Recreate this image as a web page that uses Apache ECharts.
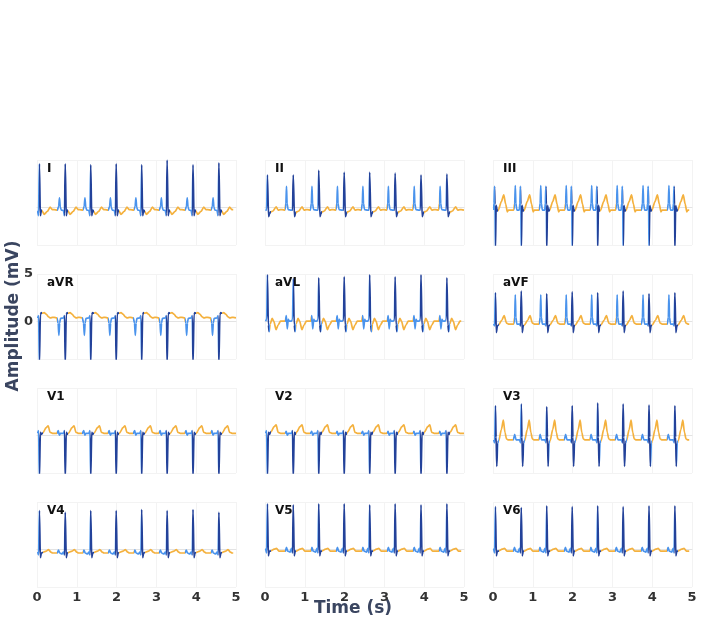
<!DOCTYPE html>
<html>
<head>
<meta charset="utf-8">
<script src="https://cdn.jsdelivr.net/npm/echarts@6/dist/echarts.min.js"></script>
<style>
html, body { margin: 0; padding: 0; background: #fff; }
#ecg { width: 701px; height: 625px; }
</style>
</head>
<body>
<div id="ecg"></div>
<script>
// 12 leads, shared rhythm (R times in s)
const leadNames = ['I', 'II', 'III', 'aVR', 'aVL', 'aVF', 'V1', 'V2', 'V3', 'V4', 'V5', 'V6'];
const beatTimes = [0.06, 0.71, 1.35, 1.99, 2.63, 3.27, 3.92, 4.57, 5.21];
const timeTicks = [0, 1, 2, 3, 4, 5];
const ampTicks = [0, 5];

// beat shape per lead: [offset from R (s), mV, phase]  phase 0 = T/baseline, 1 = P, 2 = QRS
// null = the main spike, its height comes from the peaks arrays below
const shapeI = [[-0.28,-0.25,0],[-0.2,-0.3,1],[-0.165,0.1,1],[-0.145,1.0,1],[-0.125,0.0,1],[-0.1,-0.3,1],[-0.045,-0.35,1],[-0.022,-0.9,2],[0,null,2],[0.025,-0.9,2],[0.05,-0.3,2],[0.075,-0.45,0],[0.12,-0.75,0],[0.2,-0.45,0],[0.27,0.0,0],[0.33,-0.25,0]];
const shapeII = [[-0.28,-0.25,0],[-0.21,-0.3,1],[-0.185,0.4,1],[-0.17,2.2,1],[-0.155,0.4,1],[-0.13,-0.25,1],[-0.05,-0.3,1],[-0.02,-0.3,2],[0,null,2],[0.03,-1.0,2],[0.055,-0.7,2],[0.08,-0.5,0],[0.14,-0.4,0],[0.22,0.05,0],[0.27,-0.3,0],[0.33,-0.25,0]];
const shapeIII = [[-0.28,-0.3,0],[-0.19,-0.3,1],[-0.165,0.4,1],[-0.15,2.3,1],[-0.135,0.4,1],[-0.11,-0.3,1],[-0.05,-0.3,1],[-0.035,0.4,1],[-0.022,2.2,1],[-0.01,0.3,2],[0,null,2],[0.02,0.2,2],[0.045,-0.4,2],[0.07,-0.35,0],[0.15,0.6,0],[0.21,1.3,0],[0.26,0.3,0],[0.3,-0.5,0],[0.33,-0.3,0]];
const shapeAVR = [[-0.28,0.4,0],[-0.21,0.35,1],[-0.18,-0.2,1],[-0.16,-1.5,1],[-0.14,-0.2,1],[-0.12,0.3,1],[-0.045,0.35,1],[-0.02,0.6,2],[0,null,2],[0.025,0.7,2],[0.045,0.9,2],[0.07,0.85,0],[0.12,0.9,0],[0.17,0.75,0],[0.23,0.45,0],[0.28,0.35,0],[0.33,0.4,0]];
const shapeAVL = [[-0.28,0.0,0],[-0.2,0.0,1],[-0.175,0.6,1],[-0.15,-0.8,1],[-0.125,0.2,1],[-0.1,0.0,1],[-0.045,0.0,1],[-0.018,0.2,2],[0,null,2],[0.025,-0.4,2],[0.045,-1.1,1],[0.07,-0.3,0],[0.12,0.3,0],[0.16,0.0,0],[0.22,-0.9,0],[0.27,-0.4,0],[0.33,0.0,0]];
const shapeAVF = [[-0.28,-0.3,0],[-0.19,-0.3,1],[-0.165,0.4,1],[-0.15,2.8,1],[-0.135,0.4,1],[-0.11,-0.3,1],[-0.045,-0.3,1],[-0.02,-0.5,2],[0,null,2],[0.025,-1.2,2],[0.05,-0.5,2],[0.08,-0.4,0],[0.16,0.1,0],[0.22,0.6,0],[0.28,-0.2,0],[0.33,-0.3,0]];
const shapeV1 = [[-0.28,0.2,0],[-0.21,0.2,1],[-0.175,0.5,1],[-0.15,0.0,1],[-0.12,0.2,1],[-0.045,0.2,1],[-0.02,0.5,2],[0,null,2],[0.025,0.3,2],[0.055,0.1,2],[0.08,0.2,0],[0.17,0.8,0],[0.22,1.0,0],[0.27,0.3,0],[0.33,0.2,0]];
const shapeV2 = [[-0.28,0.2,0],[-0.21,0.2,1],[-0.175,0.4,1],[-0.15,0.0,1],[-0.12,0.2,1],[-0.045,0.2,1],[-0.02,0.5,2],[0,null,2],[0.025,0.3,2],[0.055,0.1,2],[0.08,0.3,0],[0.17,0.9,0],[0.22,1.1,0],[0.27,0.3,0],[0.33,0.2,0]];
const shapeV3 = [[-0.28,-0.5,0],[-0.2,-0.5,1],[-0.165,0.1,1],[-0.13,-0.5,1],[-0.045,-0.5,1],[-0.018,-0.8,2],[0,null,2],[0.018,-0.2,2],[0.035,-3.3,2],[0.06,-0.8,1],[0.085,-0.6,0],[0.15,0.6,0],[0.2,1.6,0],[0.24,0.3,0],[0.28,-0.4,0],[0.33,-0.5,0]];
const shapeV4 = [[-0.28,-0.4,0],[-0.2,-0.4,1],[-0.17,-0.1,1],[-0.14,-0.4,1],[-0.08,-0.5,1],[-0.045,-0.3,1],[-0.02,-0.6,2],[0,null,2],[0.025,-0.9,2],[0.05,-0.4,2],[0.08,-0.35,0],[0.17,-0.2,0],[0.23,-0.05,0],[0.29,-0.3,0],[0.33,-0.4,0]];
const shapeV5 = [[-0.28,-0.2,0],[-0.2,-0.2,1],[-0.17,0.2,1],[-0.14,-0.2,1],[-0.08,-0.3,1],[-0.045,0.1,1],[-0.02,-0.4,2],[0,null,2],[0.025,-0.7,2],[0.05,-0.2,2],[0.08,-0.2,0],[0.17,0.0,0],[0.23,0.1,0],[0.29,-0.2,0],[0.33,-0.2,0]];
const shapeV6 = [[-0.28,-0.2,0],[-0.2,-0.2,1],[-0.17,0.2,1],[-0.14,-0.2,1],[-0.08,-0.3,1],[-0.045,0.1,1],[-0.02,-0.4,2],[0,null,2],[0.025,-0.7,2],[0.05,-0.2,2],[0.08,-0.2,0],[0.17,0.0,0],[0.23,0.1,0],[0.29,-0.2,0],[0.33,-0.2,0]];

// main spike height per beat (mV)
const peaksI = [4.6, 4.6, 4.5, 4.6, 4.5, 5.0, 4.5, 4.7];
const peaksII = [3.4, 3.4, 3.9, 3.7, 3.7, 3.6, 3.4, 3.5];
const peaksIII = [-4.6, -4.6, -4.6, -4.6, -4.6, -4.6, -4.6, -4.6];
const peaksAVR = [-4.6, -4.6, -4.6, -4.6, -4.6, -4.6, -4.6, -4.6];
const peaksAVL = [4.9, 4.5, 4.6, 4.7, 4.9, 4.7, 4.9, 4.6];
const peaksAVF = [3.0, 3.2, 2.9, 3.1, 3.0, 3.2, 2.9, 3.0];
const peaksV1 = [-4.6, -4.6, -4.6, -4.6, -4.6, -4.6, -4.6, -4.6];
const peaksV2 = [-4.6, -4.6, -4.6, -4.6, -4.6, -4.6, -4.6, -4.6];
const peaksV3 = [3.1, 3.3, 3.0, 3.1, 3.4, 3.3, 3.2, 3.1];
const peaksV4 = [4.1, 3.9, 4.1, 4.1, 4.2, 4.1, 4.2, 3.9];
const peaksV5 = [4.8, 4.7, 4.8, 4.8, 4.7, 4.8, 4.7, 4.8];
const peaksV6 = [4.5, 4.4, 4.6, 4.5, 4.6, 4.5, 4.6, 4.6];

const shapes = [shapeI, shapeII, shapeIII, shapeAVR, shapeAVL, shapeAVF, shapeV1, shapeV2, shapeV3, shapeV4, shapeV5, shapeV6];
const peaks = [peaksI, peaksII, peaksIII, peaksAVR, peaksAVL, peaksAVF, peaksV1, peaksV2, peaksV3, peaksV4, peaksV5, peaksV6];

const phaseColors = ['#f4b13e', '#4a93ec', '#23429a'];
const colLeft = [37, 265, 493];
const rowTop = [160, 274, 388, 502];
const gridW = 199, gridH = 85;
const font = 'DejaVu Sans';

function buildLead(i) {
  let pts = [];
  beatTimes.forEach((tb, b) => {
    shapes[i].forEach(k => {
      const t = +(tb + k[0]).toFixed(3);
      const v = k[1] === null ? peaks[i][Math.min(b, peaks[i].length - 1)] : k[1];
      pts.push([t, v, k[2]]);
    });
  });
  pts = pts.filter(p => p[0] >= 0 && p[0] <= 5);
  // colour pieces along time
  const pieces = [];
  let start = 0, ph = pts[0][2];
  for (let k = 1; k < pts.length; k++) {
    if (pts[k][2] !== ph) {
      pieces.push({ gte: start, lt: pts[k][0], color: phaseColors[ph] });
      start = pts[k][0];
      ph = pts[k][2];
    }
  }
  pieces.push({ gte: start, lte: 5, color: phaseColors[ph] });
  return { data: pts.map(p => [p[0], p[1]]), pieces };
}

const grids = [], xAxes = [], yAxes = [], series = [], visualMaps = [], graphics = [];
leadNames.forEach((name, i) => {
  const row = Math.floor(i / 3), col = i % 3;
  const lead = buildLead(i);
  grids.push({ left: colLeft[col], top: rowTop[row], width: gridW, height: gridH });
  xAxes.push({
    gridIndex: i, type: 'value', min: 0, max: 5, interval: 1,
    axisLine: { show: true, lineStyle: { color: '#e3e3e3' } },
    axisTick: { show: false },
    splitLine: { show: true, lineStyle: { color: '#f3f3f3' } },
    axisLabel: {
      show: row === 3, fontFamily: font, fontWeight: 'bold', fontSize: 13, color: '#333', margin: 4,
      customValues: timeTicks
    }
  });
  yAxes.push({
    gridIndex: i, type: 'value', min: -4, max: 5, interval: 9,
    axisLine: { show: false }, axisTick: { show: false },
    splitLine: { show: true, lineStyle: { color: '#f3f3f3' } },
    axisLabel: {
      show: i === 3, fontFamily: font, fontWeight: 'bold', fontSize: 13, color: '#333', margin: 4,
      customValues: ampTicks
    }
  });
  series.push({
    name: name, type: 'line', xAxisIndex: i, yAxisIndex: i,
    data: lead.data, showSymbol: false, symbol: 'none',
    smooth: 0.25, smoothMonotone: 'x',
    lineStyle: { width: 1.7 }, animation: false
  });
  visualMaps.push({
    type: 'piecewise', show: false, dimension: 0, seriesIndex: i,
    pieces: lead.pieces
  });
  graphics.push({
    type: 'text', left: colLeft[col] + 10, top: rowTop[row] + 3,
    style: { text: name, font: 'bold 12px "DejaVu Sans"', fill: '#111' }
  });
});

graphics.push({
  type: 'text', x: 14, y: 316, rotation: Math.PI / 2,
  style: { text: 'Amplitude (mV)', font: 'bold 17px "DejaVu Sans"', fill: '#3a4560', align: 'center', verticalAlign: 'middle' }
});
graphics.push({
  type: 'text', x: 353, y: 609,
  style: { text: 'Time (s)', font: 'bold 17px "DejaVu Sans"', fill: '#3a4560', align: 'center', verticalAlign: 'middle' }
});

const chart = echarts.init(document.getElementById('ecg'));
chart.setOption({
  backgroundColor: '#fff',
  animation: false,
  grid: grids,
  xAxis: xAxes,
  yAxis: yAxes,
  visualMap: visualMaps,
  series: series,
  graphic: graphics
});
</script>
</body>
</html>
